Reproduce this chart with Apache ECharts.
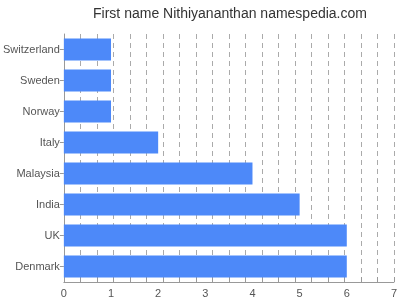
<!DOCTYPE html>
<html>
<head>
<meta charset="utf-8">
<script src="https://cdn.jsdelivr.net/npm/echarts@6/dist/echarts.min.js"></script>
<style>html,body{margin:0;padding:0;background:#fff}#c{width:400px;height:300px}</style>
</head>
<body>
<div id="c"></div>
<script>
var categories = ["Switzerland", "Sweden", "Norway", "Italy", "Malaysia", "India", "UK", "Denmark"];
var values = [1, 1, 1, 2, 4, 5, 6, 6];
var xTickLabels = ["0", "1", "2", "3", "4", "5", "6", "7"];
var gridDivisions = 20;

var chart = echarts.init(document.getElementById('c'), null, {renderer: 'canvas'});
chart.setOption({
  animation: false,
  backgroundColor: '#ffffff',
  title: {
    text: 'First name Nithiyananthan namespedia.com',
    left: 225, top: 2, textAlign: 'center',
    textStyle: {fontFamily: 'Liberation Sans, Arial, sans-serif', fontSize: 14, fontWeight: 'normal', color: '#333'}
  },
  grid: {left: 62, right: 5, top: 34, bottom: 18, containLabel: false},
  xAxis: [{
    type: 'value', min: 0, max: xTickLabels.length - 1, interval: 1,
    axisLine: {show: true, lineStyle: {color: '#999', width: 1}},
    axisTick: {show: false},
    splitLine: {show: false},
    axisLabel: {color: '#555', fontSize: 11, fontFamily: 'Liberation Sans, Arial, sans-serif', margin: 6,
      formatter: function (v) { return xTickLabels[Math.round(v)]; }}
  }, {
    type: 'value', min: 0, max: gridDivisions, interval: 1, position: 'bottom',
    axisLine: {show: false},
    axisLabel: {show: false},
    axisTick: {show: true, inside: true, length: 5, lineStyle: {color: '#999'}},
    splitLine: {show: true, lineStyle: {color: '#aaa', type: [5, 4], width: 1}}
  }],
  yAxis: {
    type: 'category', data: categories, inverse: true,
    axisLine: {show: true, lineStyle: {color: '#999', width: 1}},
    axisTick: {show: true, alignWithLabel: true, length: 4, lineStyle: {color: '#999'}},
    axisLabel: {color: '#555', fontSize: 11, fontFamily: 'Liberation Sans, Arial, sans-serif', margin: 4},
    splitLine: {show: false}
  },
  series: [{
    type: 'bar', data: values, xAxisIndex: 0,
    barWidth: '71%',
    itemStyle: {color: '#4d89f9'}
  }]
});
</script>
</body>
</html>
